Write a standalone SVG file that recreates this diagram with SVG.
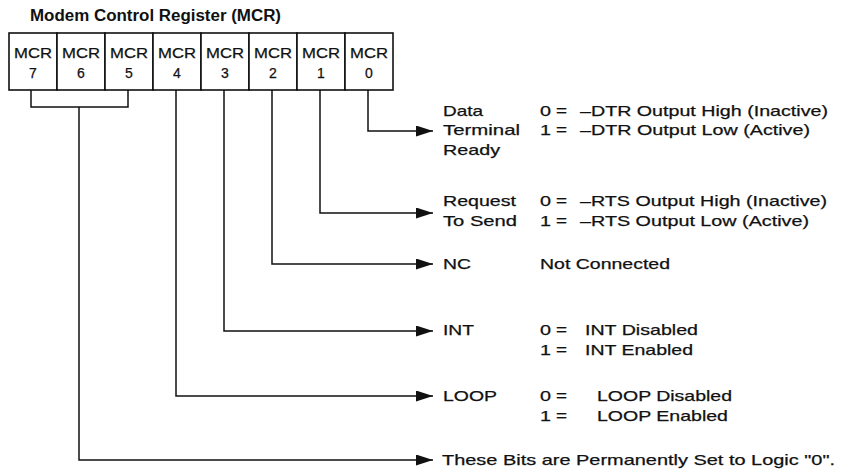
<svg xmlns="http://www.w3.org/2000/svg" width="843" height="470" viewBox="0 0 843 470">
<style>
.t{font-family:"Liberation Sans",Arial,sans-serif;font-size:15px;fill:#111;stroke:#111;stroke-width:0.25}
.c{font-family:"Liberation Sans",Arial,sans-serif;font-size:14px;fill:#111;stroke:#111;stroke-width:0.25;text-anchor:middle}
.h{font-family:"Liberation Sans",Arial,sans-serif;font-size:16px;font-weight:bold;fill:#111}
.cell{fill:#fff;stroke:#111;stroke-width:1.6}
.ln{fill:none;stroke:#111;stroke-width:1.5}
</style>
<defs>
<marker id="ah" markerUnits="userSpaceOnUse" viewBox="0 0 17 11" markerWidth="17" markerHeight="11" refX="17" refY="5.5" orient="auto">
<path d="M0,0 L17,5.5 L0,11 Z" fill="#111"/>
</marker>
</defs>
<rect width="843" height="470" fill="#fff"/>
<text class="h" x="30" y="21" textLength="251" lengthAdjust="spacingAndGlyphs">Modem Control Register (MCR)</text>
<g id="register">
<g id="mcr7"><rect class="cell" x="9" y="33" width="48" height="57"/><text class="c" x="33" y="58" textLength="38" lengthAdjust="spacingAndGlyphs">MCR</text><text class="c" x="33" y="78">7</text></g>
<g id="mcr6"><rect class="cell" x="57" y="33" width="48" height="57"/><text class="c" x="81" y="58" textLength="38" lengthAdjust="spacingAndGlyphs">MCR</text><text class="c" x="81" y="78">6</text></g>
<g id="mcr5"><rect class="cell" x="105" y="33" width="48" height="57"/><text class="c" x="129" y="58" textLength="38" lengthAdjust="spacingAndGlyphs">MCR</text><text class="c" x="129" y="78">5</text></g>
<g id="mcr4"><rect class="cell" x="153" y="33" width="48" height="57"/><text class="c" x="177" y="58" textLength="38" lengthAdjust="spacingAndGlyphs">MCR</text><text class="c" x="177" y="78">4</text></g>
<g id="mcr3"><rect class="cell" x="201" y="33" width="48" height="57"/><text class="c" x="225" y="58" textLength="38" lengthAdjust="spacingAndGlyphs">MCR</text><text class="c" x="225" y="78">3</text></g>
<g id="mcr2"><rect class="cell" x="249" y="33" width="48" height="57"/><text class="c" x="273" y="58" textLength="38" lengthAdjust="spacingAndGlyphs">MCR</text><text class="c" x="273" y="78">2</text></g>
<g id="mcr1"><rect class="cell" x="297" y="33" width="48" height="57"/><text class="c" x="321" y="58" textLength="38" lengthAdjust="spacingAndGlyphs">MCR</text><text class="c" x="321" y="78">1</text></g>
<g id="mcr0"><rect class="cell" x="345" y="33" width="48" height="57"/><text class="c" x="369" y="58" textLength="38" lengthAdjust="spacingAndGlyphs">MCR</text><text class="c" x="369" y="78">0</text></g>
</g>
<g id="connectors">
<path class="ln" d="M368,90 V131 H433" marker-end="url(#ah)"/>
<path class="ln" d="M320,90 V213 H433" marker-end="url(#ah)"/>
<path class="ln" d="M272,90 V264 H433" marker-end="url(#ah)"/>
<path class="ln" d="M224,90 V331 H433" marker-end="url(#ah)"/>
<path class="ln" d="M176,90 V396 H433" marker-end="url(#ah)"/>
<path class="ln" d="M31,90 V107 H128 V90"/>
<path class="ln" d="M79,107 V460 H433" marker-end="url(#ah)"/>
</g>
<g id="dtr">
<text class="t" x="443" y="115.5" textLength="40" lengthAdjust="spacingAndGlyphs">Data</text>
<text class="t" x="443" y="135" textLength="77" lengthAdjust="spacingAndGlyphs">Terminal</text>
<text class="t" x="443" y="155" textLength="57" lengthAdjust="spacingAndGlyphs">Ready</text>
<text class="t" x="540" y="115.5" textLength="11" lengthAdjust="spacingAndGlyphs">0</text>
<text class="t" x="556" y="115.5" textLength="11" lengthAdjust="spacingAndGlyphs">=</text>
<text class="t" x="580" y="115.5" textLength="248" lengthAdjust="spacingAndGlyphs">–DTR Output High (Inactive)</text>
<text class="t" x="540" y="135" textLength="11" lengthAdjust="spacingAndGlyphs">1</text>
<text class="t" x="556" y="135" textLength="11" lengthAdjust="spacingAndGlyphs">=</text>
<text class="t" x="580" y="135" textLength="230" lengthAdjust="spacingAndGlyphs">–DTR Output Low (Active)</text>
</g>
<g id="rts">
<text class="t" x="443" y="206" textLength="73" lengthAdjust="spacingAndGlyphs">Request</text>
<text class="t" x="443" y="226" textLength="74" lengthAdjust="spacingAndGlyphs">To Send</text>
<text class="t" x="540" y="206" textLength="11" lengthAdjust="spacingAndGlyphs">0</text>
<text class="t" x="556" y="206" textLength="11" lengthAdjust="spacingAndGlyphs">=</text>
<text class="t" x="580" y="206" textLength="247" lengthAdjust="spacingAndGlyphs">–RTS Output High (Inactive)</text>
<text class="t" x="540" y="226" textLength="11" lengthAdjust="spacingAndGlyphs">1</text>
<text class="t" x="556" y="226" textLength="11" lengthAdjust="spacingAndGlyphs">=</text>
<text class="t" x="580" y="226" textLength="229" lengthAdjust="spacingAndGlyphs">–RTS Output Low (Active)</text>
</g>
<g id="nc">
<text class="t" x="443" y="269" textLength="28" lengthAdjust="spacingAndGlyphs">NC</text>
<text class="t" x="540" y="269" textLength="130" lengthAdjust="spacingAndGlyphs">Not Connected</text>
</g>
<g id="int">
<text class="t" x="443" y="335" textLength="31" lengthAdjust="spacingAndGlyphs">INT</text>
<text class="t" x="540" y="335" textLength="11" lengthAdjust="spacingAndGlyphs">0</text>
<text class="t" x="556" y="335" textLength="11" lengthAdjust="spacingAndGlyphs">=</text>
<text class="t" x="585" y="335" textLength="113" lengthAdjust="spacingAndGlyphs">INT Disabled</text>
<text class="t" x="540" y="355" textLength="11" lengthAdjust="spacingAndGlyphs">1</text>
<text class="t" x="556" y="355" textLength="11" lengthAdjust="spacingAndGlyphs">=</text>
<text class="t" x="585" y="355" textLength="108" lengthAdjust="spacingAndGlyphs">INT Enabled</text>
</g>
<g id="loop">
<text class="t" x="443" y="401" textLength="54" lengthAdjust="spacingAndGlyphs">LOOP</text>
<text class="t" x="540" y="401" textLength="11" lengthAdjust="spacingAndGlyphs">0</text>
<text class="t" x="556" y="401" textLength="11" lengthAdjust="spacingAndGlyphs">=</text>
<text class="t" x="597" y="401" textLength="135" lengthAdjust="spacingAndGlyphs">LOOP Disabled</text>
<text class="t" x="540" y="421" textLength="11" lengthAdjust="spacingAndGlyphs">1</text>
<text class="t" x="556" y="421" textLength="11" lengthAdjust="spacingAndGlyphs">=</text>
<text class="t" x="597" y="421" textLength="131" lengthAdjust="spacingAndGlyphs">LOOP Enabled</text>
</g>
<g id="fixed">
<text class="t" x="442" y="465" textLength="393" lengthAdjust="spacingAndGlyphs">These Bits are Permanently Set to Logic "0".</text>
</g>
</svg>
